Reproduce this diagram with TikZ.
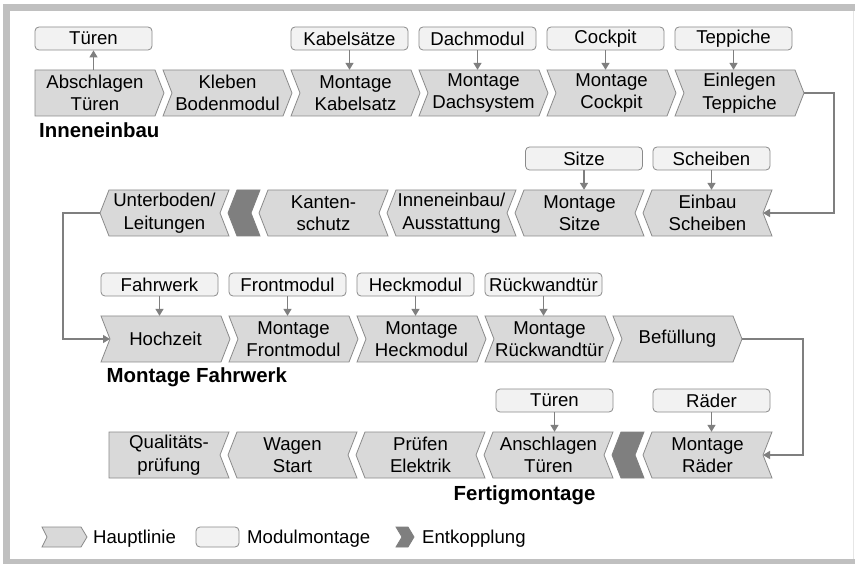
\documentclass[tikz,border=0pt]{standalone}
\usepackage{fontspec}
\setmainfont{Liberation Sans}
\usetikzlibrary{arrows.meta,calc}

\definecolor{chevfill}{HTML}{D9D9D9}
\definecolor{chevline}{HTML}{8A8A8A}
\definecolor{modfill}{HTML}{F2F2F2}
\definecolor{decoup}{HTML}{7F7F7F}
\definecolor{framegray}{HTML}{C0C0C0}
\definecolor{edgegray}{HTML}{E6E6E6}

\tikzset{
  chevshape/.style={fill=chevfill, draw=chevline, line width=0.8pt, line join=miter},
  decshape/.style={fill=decoup, draw=decoup, line width=0.8pt, line join=miter},
  chevtext/.style={align=center, inner sep=0pt, minimum height=46pt,
    font=\fontsize{18.6}{22.5}\selectfont},
  modbox/.style={draw=chevline, fill=modfill, rounded corners=4pt, line width=0.8pt,
    minimum width=117pt, minimum height=23pt, inner sep=0pt,
    font=\fontsize{18.6}{22.5}\selectfont},
  conn/.style={draw=decoup, line width=1.3pt, -{Triangle[length=7pt,width=8pt]}},
  section/.style={font=\fontsize{20.4}{24}\selectfont\bfseries, anchor=base west, inner sep=0pt},
  legtext/.style={font=\fontsize{18.6}{22.5}\selectfont, anchor=base west, inner sep=0pt},
}

% right-pointing step: name, body left, top, notch depth, text
\newcommand\rchev[5]{%
  \path[chevshape] (#2,#3) -- (#2+120,#3) -- (#2+129,#3+23) -- (#2+120,#3+46)
    -- (#2,#3+46) -- (#2+#4,#3+23) -- cycle;
  \node[chevtext] (#1) at (#2+60+#4/2,#3+23) {#5};
  \coordinate (#1-in) at (#2+#4,#3+23);
  \coordinate (#1-out) at (#2+129,#3+23);
}
% left-pointing step: [style] name, body left, top, tip depth, notch depth, text, body width
\newcommand\lchev[8][chevshape]{%
  \path[#1] (#3,#4) -- (#3+#8,#4) -- (#3+#8-#6,#4+23) -- (#3+#8,#4+46)
    -- (#3,#4+46) -- (#3-#5,#4+23) -- cycle;
  \node[chevtext] (#2) at (#3+#8/2-#5/2,#4+23) {#7};
  \coordinate (#2-in) at (#3+#8-#6,#4+23);
  \coordinate (#2-out) at (#3-#5,#4+23);
}

\begin{document}
\begin{tikzpicture}[x=1pt,y=-1pt]
\useasboundingbox (0,0) rectangle (855,564);

% frame
\fill[framegray] (3,4) rectangle (855,564);
\fill[white] (10,11) rectangle (855,559);
\draw[edgegray, line width=1pt] (853.5,11) -- (853.5,559);

% ---- Inneneinbau ----
\rchev{a1}{35}{70}{0}{Abschlagen\\Türen}
\rchev{a2}{163}{70}{9}{Kleben\\Bodenmodul}
\rchev{a3}{291}{70}{9}{Montage\\Kabelsatz}
\rchev{a4}{419}{70}{9}{Montage\\Dachsystem}
\rchev{a5}{547}{70}{9}{Montage\\Cockpit}
\rchev{a6}{675}{70}{9}{Einlegen\\Teppiche}

\node[modbox] (m1) at (93.5,38.5) {Türen};
\node[modbox] (m3) at (349.5,38.5) {Kabelsätze};
\node[modbox] (m4) at (477.5,38.5) {Dachmodul};
\node[modbox] (m5) at (605.5,38.5) {Cockpit};
\node[modbox] (m6) at (733.5,38.5) {Teppiche};

\draw[conn] (m1.south |- a1.north) -- (m1.south);
\draw[conn] (m3.south) -- (m3.south |- a3.north);
\draw[conn] (m4.south) -- (m4.south |- a4.north);
\draw[conn] (m5.south) -- (m5.south |- a5.north);
\draw[conn] (m6.south) -- (m6.south |- a6.north);

\node[section] (t1) at (39,138) {Inneneinbau};

% ---- second line (right to left) ----
\lchev{b1}{652}{190}{9}{9}{Einbau\\Scheiben}{120}
\lchev{b2}{524}{190}{9}{9}{Montage\\Sitze}{120}
\lchev{b3}{396}{190}{9}{9}{Inneneinbau/\\Ausstattung}{120}
\lchev{b4}{268}{190}{9}{9}{Kanten-\\schutz}{120}
\lchev[decshape]{bx}{237}{190}{9}{9}{}{23}
\lchev{b5}{109}{190}{9}{9}{Unterboden/\\Leitungen}{120}

\node[modbox] (n1) at (711.5,158.5) {Scheiben};
\node[modbox] (n2) at (584,158.5) {Sitze};
\draw[conn] (n1.south) -- (n1.south |- b1.north);
\draw[conn] (n2.south) -- (n2.south |- b2.north);

% ---- Montage Fahrwerk ----
\rchev{c1}{101}{316}{9}{Hochzeit}
\rchev{c2}{229}{316}{9}{Montage\\Frontmodul}
\rchev{c3}{357}{316}{9}{Montage\\Heckmodul}
\rchev{c4}{485}{316}{9}{Montage\\Rückwandtür}
\rchev{c5}{613}{316}{9}{Befüllung}

\node[modbox] (p1) at (159.5,284.5) {Fahrwerk};
\node[modbox] (p2) at (287.5,284.5) {Frontmodul};
\node[modbox] (p3) at (415.5,284.5) {Heckmodul};
\node[modbox] (p4) at (543.5,284.5) {Rückwandtür};
\draw[conn] (p1.south) -- (p1.south |- c1.north);
\draw[conn] (p2.south) -- (p2.south |- c2.north);
\draw[conn] (p3.south) -- (p3.south |- c3.north);
\draw[conn] (p4.south) -- (p4.south |- c4.north);

\node[section] (t2) at (106.5,382) {Montage Fahrwerk};

% ---- Fertigmontage (right to left) ----
\lchev{d1}{652}{432}{9}{9}{Montage\\Räder}{120}
\lchev[decshape]{dx}{621}{432}{9}{9}{}{23}
\lchev{d2}{493}{432}{9}{9}{Anschlagen\\Türen}{120}
\lchev{d3}{365}{432}{9}{9}{Prüfen\\Elektrik}{120}
\lchev{d4}{237}{432}{9}{9}{Wagen\\Start}{120}
\lchev{d5}{109}{432}{0}{9}{Qualitäts-\\prüfung}{120}

\node[modbox] (q1) at (711.5,400.5) {Räder};
\node[modbox] (q2) at (554.5,400.5) {Türen};
\draw[conn] (q1.south) -- (q1.south |- d1.north);
\draw[conn] (q2.south) -- (q2.south |- d2.north);

\node[section] (t3) at (453.5,500) {Fertigmontage};

% ---- line changes ----
\draw[conn] (a6-out) -- ++(30,0) |- (b1-in);
\draw[conn] (b5-out) -- ++(-37,0) |- (c1-in);
\draw[conn] (c5-out) -- ++(61,0) |- (d1-in);

% ---- legend ----
\path[chevshape] (42,527) -- (81,527) -- (87,537) -- (81,547) -- (42,547) -- (47,537) -- cycle;
\node[legtext] (l1) at (93,543.5) {Hauptlinie};
\node[modbox, minimum width=43pt, minimum height=20pt] (l2b) at (217.5,537) {};
\node[legtext] (l2) at (247,543.5) {Modulmontage};
\path[decshape] (396,527) -- (408,527) -- (414,537) -- (408,547) -- (396,547) -- (402,537) -- cycle;
\node[legtext] (l3) at (422,543.5) {Entkopplung};

\end{tikzpicture}
\end{document}
